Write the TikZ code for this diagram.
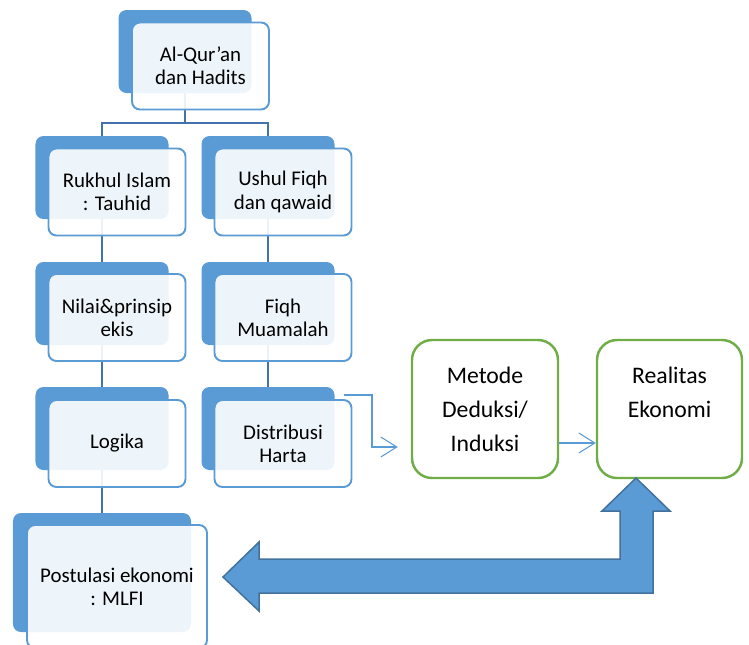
\documentclass[tikz,border=0pt]{standalone}
\usepackage{fontspec}
\setmainfont{Carlito}
\usetikzlibrary{arrows.meta,positioning}
\definecolor{boxblue}{HTML}{5B9BD5}
\definecolor{lineblue}{RGB}{68,114,172}
\definecolor{edgeblue}{HTML}{41719C}
\definecolor{boxgreen}{HTML}{70AD47}

\begin{document}
\begin{tikzpicture}[x=0.2mm,y=-0.2mm,
  backbox/.style={fill=boxblue, rounded corners=1.6mm, minimum width=26.6mm, minimum height=16.6mm},
  frontbox/.style={draw=boxblue, line width=1.1pt, fill=white, fill opacity=0.9, text opacity=1,
    rounded corners=1.6mm, minimum width=27.4mm, minimum height=17.4mm, align=center,
    font=\fontsize{11.9}{13.2}\selectfont},
  greenbox/.style={draw=boxgreen, line width=1.4pt, fill=white, rounded corners=4mm,
    minimum width=29.2mm, minimum height=27.6mm, align=center,
    font=\fontsize{13.5}{19.3}\selectfont},
  treeline/.style={lineblue, line width=1.1pt},
  thinarrow/.style={boxblue, line width=0.6pt, -{Straight Barb[length=3.2mm,width=4mm]}},
  bigarrow/.style={fill=boxblue, draw=edgeblue, line width=0.85pt, line join=miter}]
  \useasboundingbox (0,0) rectangle (749,644);

  % back boxes
  \node[backbox] (quranB) at (185,51.5) {};
  \node[backbox] (rukhulB) at (102,177.5) {};
  \node[backbox] (ushulB) at (268,177.5) {};
  \node[backbox] (nilaiB) at (102,303.5) {};
  \node[backbox] (fiqhB) at (268,303.5) {};
  \node[backbox] (logikaB) at (102,428.5) {};
  \node[backbox] (distB) at (268,428.5) {};
  \node[backbox, minimum width=35.6mm, minimum height=23.8mm] (postB) at (102,572.5) {};

  % tree
  \coordinate (split) at (185,123);
  \draw[treeline] (quranB.south) -- (split);
  \draw[treeline] (rukhulB.north) |- (split) -| (ushulB.north);
  \draw[treeline] (rukhulB.south) -- (nilaiB.north);
  \draw[treeline] (nilaiB.south) -- (logikaB.north);
  \draw[treeline] (logikaB.south) -- (postB.north);
  \draw[treeline] (ushulB.south) -- (fiqhB.north);
  \draw[treeline] (fiqhB.south) -- (distB.north);

  % front boxes
  \node[frontbox] (quran) at (200.5,66) {Al-Qur’an\\dan Hadits};
  \node[frontbox] (rukhul) at (117,192) {Rukhul Islam\\: Tauhid};
  \node[frontbox] (ushul) at (283,192) {Ushul Fiqh\\dan qawaid};
  \node[frontbox] (nilai) at (117,317.5) {Nilai\&prinsip\\ekis};
  \node[frontbox] (fiqh) at (283,317.5) {Fiqh\\Muamalah};
  \node[frontbox] (logika) at (117,443.5) {Logika};
  \node[frontbox] (dist) at (283,443.5) {Distribusi\\Harta};
  \node[frontbox, minimum width=36mm, minimum height=24.6mm] (post) at (117,586.5)
    {Postulasi ekonomi\\: MLFI};

  % right side
  \node[greenbox] (metode) at (485,409) {Metode\\Deduksi/\\Induksi};
  \node[greenbox, minimum width=29mm] (realitas) at (669.5,409) {Realitas\\Ekonomi\\\mbox{}};

  \coordinate (distout) at (344,395);
  \draw[thinarrow, shorten >=2.6mm] (distout) -- ++(28,0) |- ([yshift=-7.6mm]metode.west);
  \draw[thinarrow] ([yshift=-6.8mm]metode.east) -- ([yshift=-6.8mm]realitas.west);

  \draw[bigarrow] (223,577) -- (259,542) -- (259,559) -- (620,559) -- (620,511)
    -- (602,511) -- (636,478) -- (670,511) -- (653,511) -- (653,593)
    -- (259,593) -- (259,611) -- cycle;
\end{tikzpicture}
\end{document}
